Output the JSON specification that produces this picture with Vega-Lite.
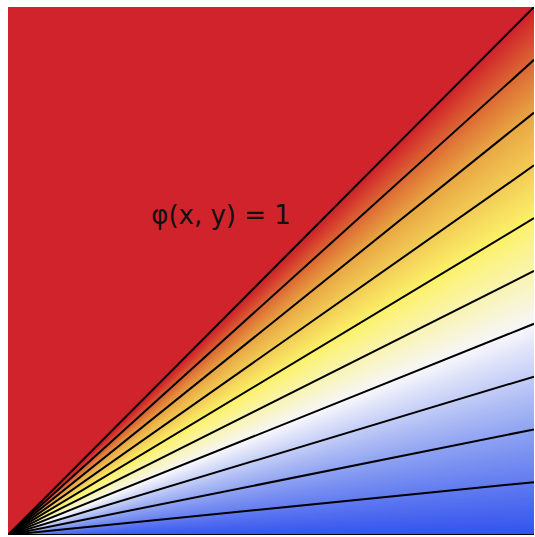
{
  "$schema": "https://vega.github.io/schema/vega-lite/v6.json",
  "autosize": {"type": "none"},
  "padding": {"left": 8, "top": 7, "right": 0, "bottom": 0},
  "width": 526,
  "height": 528,
  "background": "white",
  "config": {"view": {"stroke": null, "fill": "#d0232b"}},
  "datasets": {
    "rays": [
      {"p":0},{"p":0.005},{"p":0.01},{"p":0.015},{"p":0.02},{"p":0.025},{"p":0.03},{"p":0.035},{"p":0.04},{"p":0.045},
      {"p":0.05},{"p":0.055},{"p":0.06},{"p":0.065},{"p":0.07},{"p":0.075},{"p":0.08},{"p":0.085},{"p":0.09},{"p":0.095},
      {"p":0.1},{"p":0.105},{"p":0.11},{"p":0.115},{"p":0.12},{"p":0.125},{"p":0.13},{"p":0.135},{"p":0.14},{"p":0.145},
      {"p":0.15},{"p":0.155},{"p":0.16},{"p":0.165},{"p":0.17},{"p":0.175},{"p":0.18},{"p":0.185},{"p":0.19},{"p":0.195},
      {"p":0.2},{"p":0.205},{"p":0.21},{"p":0.215},{"p":0.22},{"p":0.225},{"p":0.23},{"p":0.235},{"p":0.24},{"p":0.245},
      {"p":0.25},{"p":0.255},{"p":0.26},{"p":0.265},{"p":0.27},{"p":0.275},{"p":0.28},{"p":0.285},{"p":0.29},{"p":0.295},
      {"p":0.3},{"p":0.305},{"p":0.31},{"p":0.315},{"p":0.32},{"p":0.325},{"p":0.33},{"p":0.335},{"p":0.34},{"p":0.345},
      {"p":0.35},{"p":0.355},{"p":0.36},{"p":0.365},{"p":0.37},{"p":0.375},{"p":0.38},{"p":0.385},{"p":0.39},{"p":0.395},
      {"p":0.4},{"p":0.405},{"p":0.41},{"p":0.415},{"p":0.42},{"p":0.425},{"p":0.43},{"p":0.435},{"p":0.44},{"p":0.445},
      {"p":0.45},{"p":0.455},{"p":0.46},{"p":0.465},{"p":0.47},{"p":0.475},{"p":0.48},{"p":0.485},{"p":0.49},{"p":0.495},
      {"p":0.5},{"p":0.505},{"p":0.51},{"p":0.515},{"p":0.52},{"p":0.525},{"p":0.53},{"p":0.535},{"p":0.54},{"p":0.545},
      {"p":0.55},{"p":0.555},{"p":0.56},{"p":0.565},{"p":0.57},{"p":0.575},{"p":0.58},{"p":0.585},{"p":0.59},{"p":0.595},
      {"p":0.6},{"p":0.605},{"p":0.61},{"p":0.615},{"p":0.62},{"p":0.625},{"p":0.63},{"p":0.635},{"p":0.64},{"p":0.645},
      {"p":0.65},{"p":0.655},{"p":0.66},{"p":0.665},{"p":0.67},{"p":0.675},{"p":0.68},{"p":0.685},{"p":0.69},{"p":0.695},
      {"p":0.7},{"p":0.705},{"p":0.71},{"p":0.715},{"p":0.72},{"p":0.725},{"p":0.73},{"p":0.735},{"p":0.74},{"p":0.745},
      {"p":0.75},{"p":0.755},{"p":0.76},{"p":0.765},{"p":0.77},{"p":0.775},{"p":0.78},{"p":0.785},{"p":0.79},{"p":0.795},
      {"p":0.8},{"p":0.805},{"p":0.81},{"p":0.815},{"p":0.82},{"p":0.825},{"p":0.83},{"p":0.835},{"p":0.84},{"p":0.845},
      {"p":0.85},{"p":0.855},{"p":0.86},{"p":0.865},{"p":0.87},{"p":0.875},{"p":0.88},{"p":0.885},{"p":0.89},{"p":0.895},
      {"p":0.9},{"p":0.905},{"p":0.91},{"p":0.915},{"p":0.92},{"p":0.925},{"p":0.93},{"p":0.935},{"p":0.94},{"p":0.945},
      {"p":0.95},{"p":0.955},{"p":0.96},{"p":0.965},{"p":0.97},{"p":0.975},{"p":0.98},{"p":0.985},{"p":0.99},{"p":0.995},
      {"p":1}
    ],
    "levels": [
      {"p":0},{"p":0.1},{"p":0.2},{"p":0.3},{"p":0.4},{"p":0.5},{"p":0.6},{"p":0.7},{"p":0.8},{"p":0.9},{"p":1}
    ],
    "label": [{"x": 0.405, "y": 0.605, "text": "φ(x, y) = 1"}]
  },
  "layer": [
    {
      "data": {"name": "rays"},
      "mark": {"type": "rule", "strokeWidth": 4, "strokeCap": "square", "clip": true},
      "encoding": {
        "y": {"field": "p", "type": "quantitative", "scale": {"domain": [0, 1], "nice": false, "zero": false}, "axis": null},
        "y2": {"datum": 0},
        "x": {"datum": 1, "type": "quantitative", "scale": {"domain": [0, 1], "nice": false, "zero": false}, "axis": null},
        "x2": {"datum": 0},
        "color": {
          "field": "p",
          "type": "quantitative",
          "legend": null,
          "scale": {
            "domain": [0, 0.2, 0.4, 0.6, 0.8, 0.9, 1],
            "range": ["#3252ee", "#8ea2f2", "#f6f6fb", "#fcf26a", "#e9a844", "#dd6a34", "#d0232b"],
            "interpolate": "rgb"
          }
        }
      }
    },
    {
      "data": {"name": "levels"},
      "mark": {"type": "rule", "color": "black", "strokeWidth": 2, "clip": true},
      "encoding": {
        "y": {"field": "p", "type": "quantitative"},
        "y2": {"datum": 0},
        "x": {"datum": 1, "type": "quantitative"},
        "x2": {"datum": 0}
      }
    },
    {
      "data": {"name": "label"},
      "mark": {"type": "text", "font": "DejaVu Sans", "fontSize": 26, "color": "#111111", "align": "center", "baseline": "middle"},
      "encoding": {
        "x": {"field": "x", "type": "quantitative"},
        "y": {"field": "y", "type": "quantitative"},
        "text": {"field": "text"}
      }
    }
  ]
}
